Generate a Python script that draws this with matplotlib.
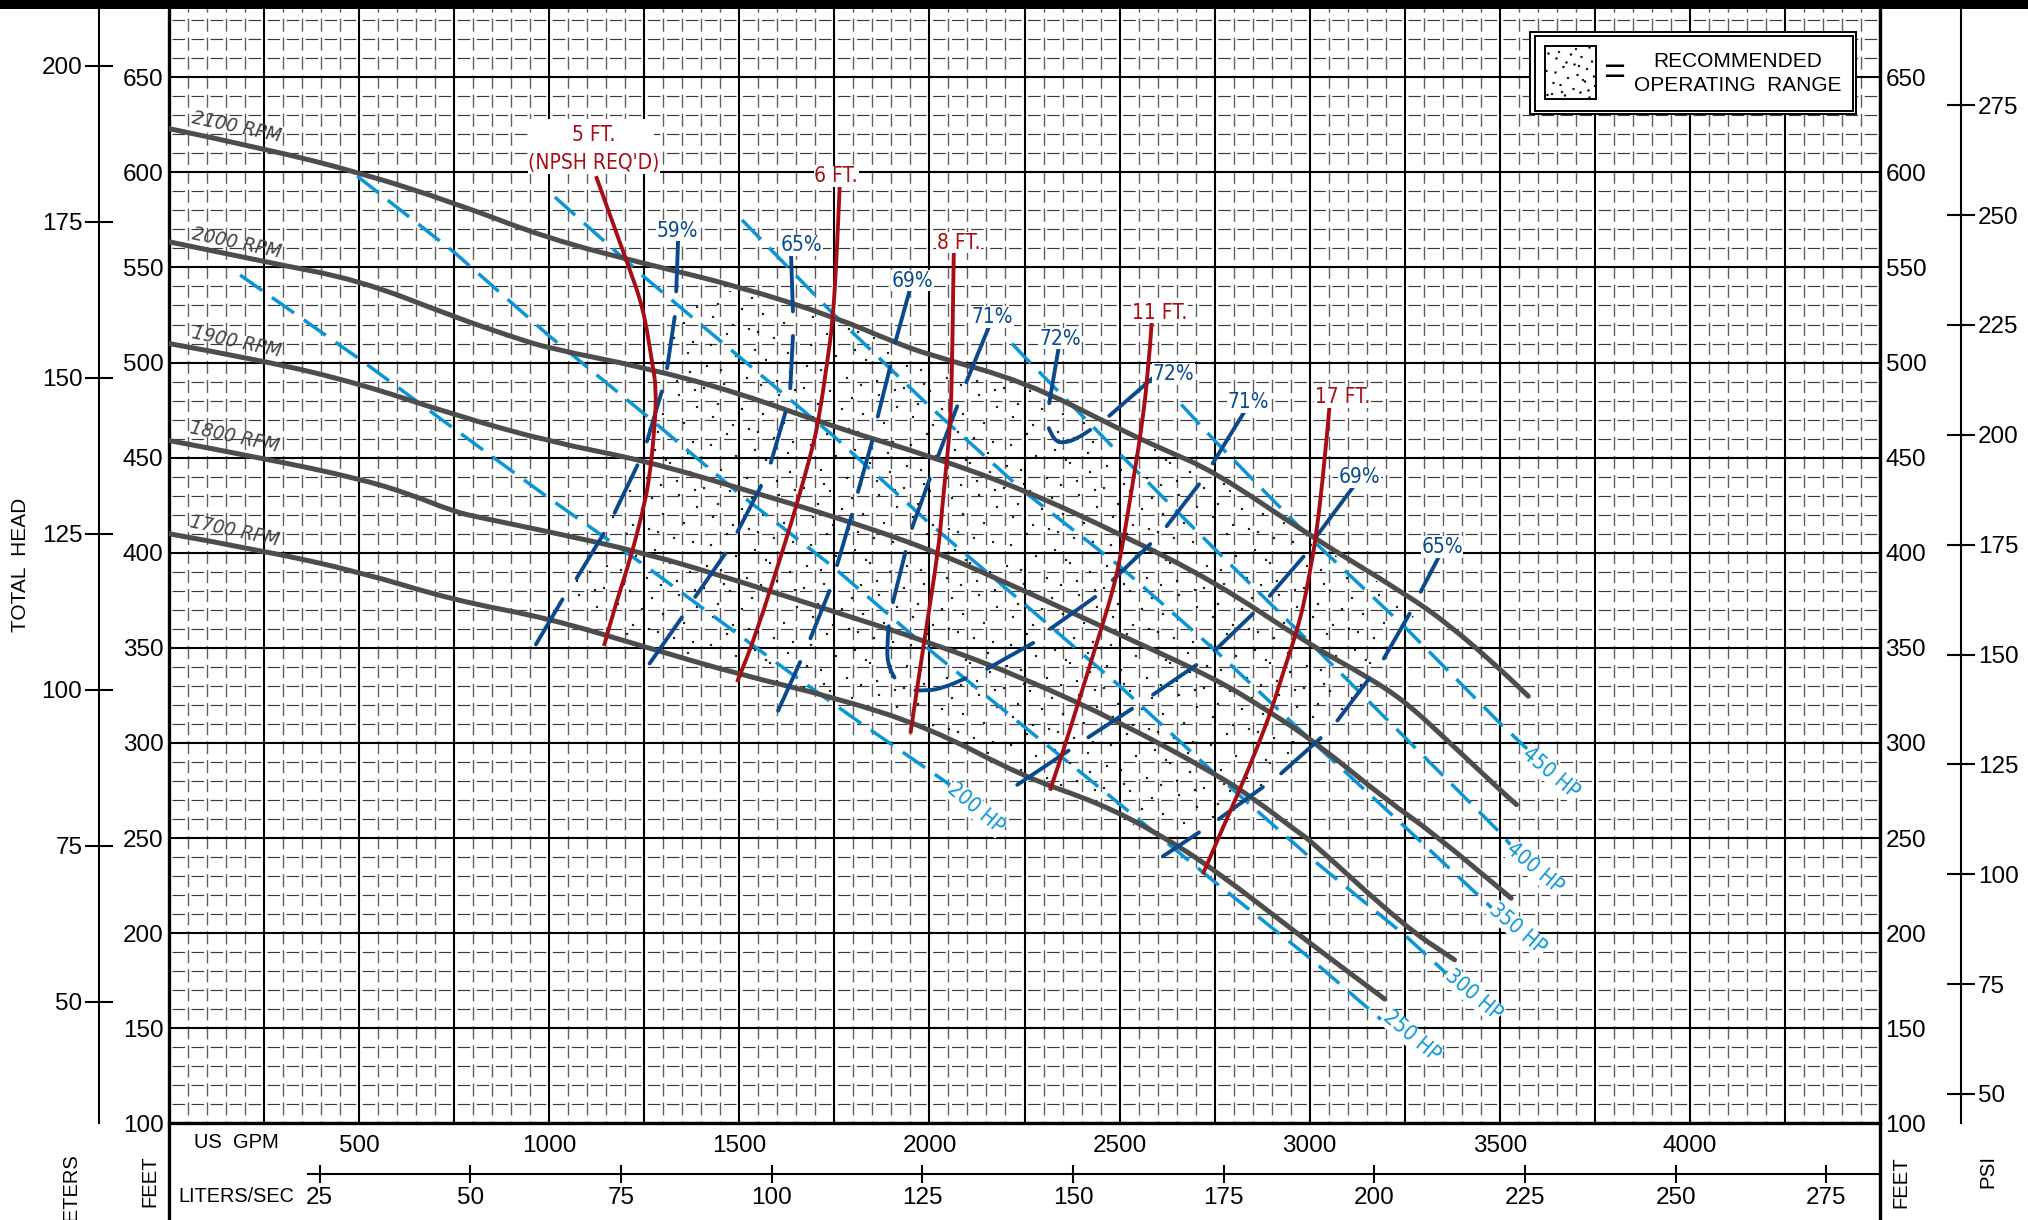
import matplotlib
matplotlib.use('Agg')
import matplotlib.pyplot as plt
from matplotlib import hatch as mhatch
from matplotlib.patches import PathPatch, Rectangle
from matplotlib.path import Path
from matplotlib.ticker import MultipleLocator

plt.rcParams['lines.scale_dashes'] = False
plt.rcParams['hatch.linewidth'] = 0.25

SANS = ['Liberation Sans', 'DejaVu Sans']

# head-capacity curves, gpm / feet
rpm_2100_gpm = [0, 250, 500, 750, 1000, 1250, 1500, 1750, 1910, 2000, 2250, 2500, 2607, 2750, 3000, 3250, 3368, 3500, 3575]
rpm_2100_ft = [623, 612.5, 600, 584, 565, 552, 540, 524, 510.5, 504, 490, 465, 455, 442.7, 409, 378.6, 362, 339, 324.6]
rpm_2000_gpm = [0, 250, 500, 750, 903, 1000, 1250, 1500, 1750, 2000, 2250, 2500, 2750, 3000, 3150, 3250, 3364, 3500, 3544]
rpm_2000_ft = [563.5, 553, 543.4, 524, 513.5, 507.4, 497.5, 484, 466, 451, 433, 410, 384.8, 351.6, 335, 322, 301, 275.4, 267.6]
rpm_1900_gpm = [0, 250, 500, 750, 1000, 1250, 1500, 1750, 2000, 2250, 2500, 2750, 2886, 3018, 3202, 3325, 3530]
rpm_1900_ft = [510, 501, 489, 472.5, 458.4, 448.5, 434, 419, 402, 380, 357, 334, 317.5, 300, 270, 252.6, 218.4]
rpm_1800_gpm = [0, 250, 500, 631, 750, 816, 1000, 1250, 1500, 1750, 2000, 2250, 2500, 2750, 2851, 2973, 3000, 3250, 3381]
rpm_1800_ft = [459, 449.6, 439, 431, 421.6, 418.6, 411, 400, 385, 369, 353, 334, 311, 284, 271, 252.6, 249, 203.5, 186]
rpm_1700_gpm = [0, 250, 500, 750, 1000, 1250, 1500, 1750, 2000, 2250, 2447, 2605, 2750, 3000, 3197]
rpm_1700_ft = [410, 401, 390, 375, 365.5, 350.6, 336, 324, 308, 282, 268.4, 252, 233.4, 194.8, 165.4]

rpm_gpm = [178, 178, 178, 173, 173]
rpm_ft = [624, 562.6, 511, 461, 411.6]
rpm_names = ['2100 RPM', '2000 RPM', '1900 RPM', '1800 RPM', '1700 RPM']

# horsepower lines
hp_200_gpm = [187, 500, 707, 1000, 1250, 1396, 1633, 1808, 2054]
hp_200_ft = [546, 502, 471.5, 428.6, 393.5, 372, 337, 312, 278]
hp_250_gpm = [495, 750, 1000, 1250, 1500, 1744, 2000, 2265, 2500, 2750, 3000, 3197]
hp_250_ft = [598, 558, 514, 473, 431, 393, 349, 306, 268, 227, 187, 153]
hp_300_gpm = [1015, 1250, 1500, 1750, 2000, 2250, 2500, 2750, 3000, 3250, 3364]
hp_300_ft = [587, 545, 503, 461, 415.5, 373, 330, 284, 240, 199, 178]
hp_350_gpm = [1507, 1750, 2000, 2250, 2500, 2750, 3000, 3250, 3486]
hp_350_ft = [575, 525, 477, 432, 393, 349, 302, 256, 212]
hp_400_gpm = [2217, 2250, 2500, 2750, 3000, 3250, 3500, 3530]
hp_400_ft = [510, 503, 452, 402, 353, 303, 253, 246]
hp_450_gpm = [2662, 2750, 3000, 3250, 3500, 3574]
hp_450_ft = [478, 459, 408, 361, 310.5, 296.5]

hp_gpm = [2122, 3267, 3430, 3548, 3592, 3635]
hp_ft = [265.6, 145.7, 167.6, 202, 234, 284]
hp_names = ['200 HP', '250 HP', '300 HP', '350 HP', '400 HP', '450 HP']

# NPSH required
npsh_5_gpm = [1123, 1206, 1247, 1270, 1282, 1277, 1263, 1245, 1215, 1175, 1144]
npsh_5_ft = [598, 552, 529, 501, 486, 465, 438, 421, 398, 373, 351]
npsh_6_gpm = [1764, 1757, 1746, 1731, 1709, 1691, 1652, 1617, 1542, 1494]
npsh_6_ft = [593, 559, 522, 500, 470, 454, 426, 403, 356, 332]
npsh_8_gpm = [2064, 2060, 2055, 2046, 2033, 2024, 1985, 1950]
npsh_8_ft = [558, 500, 468, 449, 422.5, 402, 352, 305]
npsh_11_gpm = [2585, 2574, 2553, 2539, 2522, 2500, 2478, 2450, 2362, 2317]
npsh_11_ft = [522, 491, 459, 442, 421, 395, 377, 359, 302, 275]
npsh_17_gpm = [3052, 3039, 3017, 3004, 2987, 2965, 2935, 2900, 2860, 2816, 2773, 2719]
npsh_17_ft = [476.5, 447, 408.6, 394, 375, 358, 340, 317.5, 296.5, 275.4, 256, 231]

npsh_gpm = [1755, 2077, 2605, 3086]
npsh_ft = [598, 563, 526.3, 481.8]
npsh_names = ['6 FT.', '8 FT.', '11 FT.', '17 FT.']

# efficiency contours, broken into pieces as printed
eff_59 = [([1339, 1334], [564.6, 537.4]), ([1330, 1310], [524, 497]), ([1296, 1257], [484.8, 458.5]),
          ([1232, 1172], [446, 421]), ([1143, 1072], [410, 386.5]), ([1035, 965], [375.5, 351.8])]
eff_65 = [([1636, 1641], [556.7, 526.9]), ([1641, 1634], [514, 486.5]), ([1621, 1583], [473.7, 447.4]),
          ([1557, 1495], [435, 411]), ([1463, 1384], [399.6, 376.8]), ([1349, 1264], [366, 341.8])]
eff_69 = [([1948, 1910], [538, 510.5]), ([1897, 1864], [498, 471.6]), ([1849, 1812], [458.5, 432]),
          ([1796, 1757], [420, 393.5]), ([1737, 1687], [380, 355]), ([1660, 1602], [342.6, 317])]
eff_71 = [([2156, 2097], [518.6, 489.7]), ([2073, 2023], [477, 451]), ([2001, 1954], [439, 413]),
          ([1937, 1904], [400.5, 374]), ([1893, 1887, 1893, 1908], [361.4, 349, 340, 334.4])]
eff_72 = [([2340, 2315], [508, 478.6]), ([2314, 2327, 2353, 2388, 2423], [465.5, 459, 457.6, 460, 464.6]),
          ([2473, 2587], [472, 491.8])]
eff_71_low = [([1963, 1994, 2037, 2095], [327.7, 327.4, 329, 334]), ([2152, 2273], [339, 352.6]),
              ([2318, 2436], [360, 376.8]), ([2482, 2581], [385.6, 404.6]), ([2624, 2709], [414, 436]),
              ([2745, 2827], [447, 473.7])]
eff_69_right = [([3116, 3017], [435, 408.4]), ([2984, 2895], [398, 377.4]), ([2851, 2750], [368, 348.5]),
                ([2702, 2588], [341, 325.4]), ([2533, 2418], [318, 303]), ([2366, 2231], [296, 278])]
eff_65_right = [([3342, 3292], [398.7, 379.5]), ([3263, 3195], [368, 344.4]), ([3156, 3073], [333.7, 311.8]),
                ([3029, 2925], [302.6, 284]), ([2877, 2761], [276.8, 260]), ([2709, 2614], [253, 240.4])]

eff_gpm = [1336, 1663, 1956, 2165, 2343, 2642, 2838, 3130, 3348]
eff_ft = [569.3, 561.6, 543, 523.9, 512.5, 494, 479, 439.7, 403]
eff_names = ['59%', '65%', '69%', '71%', '72%', '72%', '71%', '69%', '65%']

# recommended operating range outline
range_gpm = [1338, 1500, 1750, 2000, 2250, 2500, 2750, 3000, 3250, 3292, 3195, 3073, 2925, 2761, 2614,
             2500, 2250, 2000, 1750, 1500, 1250, 1035, 1072, 1143, 1232, 1310]
range_ft = [535, 538, 522, 502, 488, 463, 441, 407, 376, 372, 344, 312, 284, 260, 244,
            263, 282, 308, 324, 336, 352, 374, 386, 410, 446, 497]

gpm_ticks = list(range(0, 4501, 250))
gpm_labels = ['', '', '500', '', '1000', '', '1500', '', '2000', '', '2500', '', '3000', '', '3500', '', '4000', '', '']
lps_ticks = [25, 50, 75, 100, 125, 150, 175, 200, 225, 250, 275]
meter_ticks = [50, 75, 100, 125, 150, 175, 200]
psi_ticks = [50, 75, 100, 125, 150, 175, 200, 225, 250, 275]

# uneven dot texture for the stipple, positions inside one hatch tile
tile_x = [.04, .11, .13, .21, .27, .30, .36, .42, .47, .49, .55, .61, .63, .70, .74, .79, .84, .90, .93, .97,
          .07, .18, .33, .52, .66, .77, .88, .24, .58, .95]
tile_y = [.12, .55, .83, .30, .66, .09, .44, .91, .22, .71, .50, .15, .86, .37, .62, .05, .77, .28, .58, .93,
          .34, .96, .75, .02, .40, .19, .47, .16, .68, .10]


class Stipple(mhatch.HatchPatternBase):
    shape = Path.unit_circle()

    def __init__(self, hatch, density):
        self.count = hatch.count('*')
        self.num_vertices = len(tile_x) * self.count ** 2 * len(self.shape.vertices)

    def set_vertices_and_codes(self, vertices, codes):
        n = len(self.shape.vertices)
        cursor = 0
        for i in range(self.count):
            for j in range(self.count):
                for x, y in zip(tile_x, tile_y):
                    pos = [(x + i) / self.count, (y + j) / self.count]
                    vertices[cursor:cursor + n] = self.shape.vertices * 0.01 + pos
                    codes[cursor:cursor + n] = self.shape.codes
                    cursor += n


mhatch._hatch_types = [t for t in mhatch._hatch_types if t is not mhatch.Stars] + [Stipple]


def smooth_line(ax, x, y, **kw):
    # quadratic bezier through the midpoints, the read values act as control points
    pts = list(zip(x, y))
    verts = [pts[0]]
    codes = [Path.MOVETO]
    for a, b in zip(pts[1:-1], pts[2:]):
        verts += [a, ((a[0] + b[0]) / 2, (a[1] + b[1]) / 2)]
        codes += [Path.CURVE3, Path.CURVE3]
    verts.append(pts[-1])
    codes.append(Path.LINETO)
    ax.add_patch(PathPatch(Path(verts, codes), fill=False, joinstyle='round', **kw))


W, H = 2028, 1220
fig = plt.figure(figsize=(W / 100, H / 100), dpi=100)
ax = fig.add_axes([169 / W, (H - 1123.4) / H, 1711 / W, 1115.4 / H])
ax.set_xlim(0, 4500)
ax.set_ylim(100, 686.4)

# grid
ax.set_xticks(gpm_ticks)
ax.set_xticklabels(gpm_labels, fontfamily=SANS, fontsize=17.5)
ax.yaxis.set_major_locator(MultipleLocator(50))
ax.xaxis.set_minor_locator(MultipleLocator(50))
ax.yaxis.set_minor_locator(MultipleLocator(10))
ax.set_axisbelow(True)
ax.grid(which='major', color='black', linewidth=1.5)
ax.grid(which='minor', axis='y', color='#3a3a3a', linewidth=0.85, linestyle=(11.5, (9.0, 4.69)))
ax.grid(which='minor', axis='x', color='#5f5f5f', linewidth=1.0, linestyle=(7.9, (9.4, 4.29)))
ax.tick_params(which='both', length=0)
ax.tick_params(axis='x', pad=8)
ax.tick_params(axis='y', labelright=True, pad=4, labelsize=17.5)
for t in ax.get_yticklabels():
    t.set_fontfamily(SANS)
for side in ['left', 'right']:
    ax.spines[side].set_linewidth(2.4)
    ax.spines[side].set_bounds(49, 686.4)
ax.spines['bottom'].set_linewidth(2.4)
ax.spines['top'].set_visible(False)

# stippled range
ax.fill(range_gpm, range_ft, facecolor='none', edgecolor='black', linewidth=0, hatch='*', zorder=1.5)

HP_BLUE = '#0a96d6'
for x, y in [(hp_200_gpm, hp_200_ft), (hp_250_gpm, hp_250_ft), (hp_300_gpm, hp_300_ft),
             (hp_350_gpm, hp_350_ft), (hp_400_gpm, hp_400_ft), (hp_450_gpm, hp_450_ft)]:
    ax.plot(x, y, color=HP_BLUE, linewidth=2.5, linestyle=(0, (19.5, 8.5)), zorder=3)

for x, y in [(rpm_2100_gpm, rpm_2100_ft), (rpm_2000_gpm, rpm_2000_ft), (rpm_1900_gpm, rpm_1900_ft),
             (rpm_1800_gpm, rpm_1800_ft), (rpm_1700_gpm, rpm_1700_ft)]:
    smooth_line(ax, x, y, edgecolor='#4d4d4d', linewidth=3.6, capstyle='round', zorder=3.2)

for group in [eff_59, eff_65, eff_69, eff_71, eff_72, eff_71_low, eff_69_right, eff_65_right]:
    for x, y in group:
        smooth_line(ax, x, y, edgecolor='#0a4a8c', linewidth=2.8, capstyle='round', zorder=3.4)

RED = '#a80d14'
for x, y in [(npsh_5_gpm, npsh_5_ft), (npsh_6_gpm, npsh_6_ft), (npsh_8_gpm, npsh_8_ft),
             (npsh_11_gpm, npsh_11_ft), (npsh_17_gpm, npsh_17_ft)]:
    smooth_line(ax, x, y, edgecolor=RED, linewidth=2.8, capstyle='butt', zorder=3.6)

# labels on the curves
for x, y, s in zip(rpm_gpm, rpm_ft, rpm_names):
    ax.text(x, y, s, color='#444444', fontsize=14.5, family='DejaVu Sans', stretch='condensed', style='oblique',
            rotation=-12, rotation_mode='anchor', ha='center', va='center', zorder=4)
for x, y, s in zip(hp_gpm, hp_ft, hp_names):
    ax.text(x, y, s, color=HP_BLUE, fontsize=15, family='DejaVu Sans', stretch='condensed',
            rotation=-40, rotation_mode='anchor', ha='center', va='center', zorder=4,
            bbox=dict(facecolor='white', edgecolor='none', pad=0.5))
for x, y, s in zip(eff_gpm, eff_ft, eff_names):
    ax.text(x, y, s, color='#0a4a8c', fontsize=15, family='DejaVu Sans', stretch='condensed',
            ha='center', va='center', zorder=4, bbox=dict(facecolor='white', edgecolor='none', pad=0.5))
for x, y, s in zip(npsh_gpm, npsh_ft, npsh_names):
    ax.text(x, y, s, color=RED, fontsize=15, family='DejaVu Sans', stretch='condensed',
            ha='center', va='center', zorder=4, bbox=dict(facecolor='white', edgecolor='none', pad=0.5))
# white patch behind the 5 FT. note, wider than its text
ax.add_patch(Rectangle((945, 610), 330, 18, facecolor='white', edgecolor='none', zorder=2.5))
ax.text(1118, 619.7, '5 FT.', color=RED, fontsize=15, family='DejaVu Sans', stretch='condensed',
        ha='center', va='center', zorder=4)
ax.text(1118, 604.7, "(NPSH REQ'D)", color=RED, fontsize=15, family='DejaVu Sans', stretch='condensed',
        ha='center', va='center', zorder=4, bbox=dict(facecolor='white', edgecolor='none', pad=0.5))

# legend box
ax.add_patch(Rectangle((3579, 630.7), 858, 43.3, facecolor='white', edgecolor='black', linewidth=1.4, zorder=5))
ax.add_patch(Rectangle((3592, 632.4), 836, 39.2, facecolor='white', edgecolor='black', linewidth=1.4, zorder=5))
ax.add_patch(Rectangle((3620, 638.5), 132, 27.9, facecolor='white', edgecolor='black', linewidth=1.4,
                       hatch='**', zorder=5))
ax.text(3800, 651.5, '=', fontsize=27, family=SANS, ha='center', va='center', zorder=6)
ax.text(4127, 658.5, 'RECOMMENDED', fontsize=15, family=SANS, ha='center', va='center', zorder=6)
ax.text(4127, 645.4, 'OPERATING  RANGE', fontsize=15, family=SANS, ha='center', va='center', zorder=6)

# meters and psi scales
meters = ax.secondary_yaxis(-70 / 1711, functions=(lambda v: v * 0.3048, lambda v: v / 0.3048))
meters.set_yticks(meter_ticks)
meters.tick_params(direction='inout', length=20, width=1.5, pad=2, labelsize=17.5)
meters.spines['left'].set_linewidth(1.5)
for t in meters.get_yticklabels():
    t.set_fontfamily(SANS)

psi = ax.secondary_yaxis(1 + 81 / 1711, functions=(lambda v: v / 2.31, lambda v: v * 2.31))
psi.set_yticks(psi_ticks)
psi.tick_params(direction='inout', length=20, width=1.5, pad=2, labelsize=17.5)
psi.spines['right'].set_linewidth(1.5)
for t in psi.get_yticklabels():
    t.set_fontfamily(SANS)

# liters per second scale
lps = ax.secondary_xaxis(-50.6 / 1115.4, functions=(lambda v: v / 15.85, lambda v: v * 15.85))
lps.set_xticks(lps_ticks)
lps.tick_params(direction='inout', length=13, width=1.5, pad=3, labelsize=17.5)
lps.spines['bottom'].set_linewidth(1.5)
lps.spines['bottom'].set_bounds(23, 283.9)
lps.spines['top'].set_visible(False)
for t in lps.get_xticklabels():
    t.set_fontfamily(SANS)

# heavy rule along the top edge
fig.add_artist(Rectangle((0, 1 - 8.5 / H), 1, 8.5 / H, transform=fig.transFigure, facecolor='black', edgecolor='none'))

# axis names
fig.text(21 / W, 1 - 565 / H, 'TOTAL  HEAD', rotation=90, ha='center', va='center', fontsize=15, family=SANS)
fig.text(71 / W, 1 - 1153 / H, 'METERS', rotation=90, ha='center', va='top', fontsize=14.5, family=SANS)
fig.text(150 / W, 1 - 1181 / H, 'FEET', rotation=90, ha='center', va='center', fontsize=14.6, family=SANS)
fig.text(1901 / W, 1 - 1182 / H, 'FEET', rotation=90, ha='center', va='center', fontsize=14.6, family=SANS)
fig.text(1988 / W, 1 - 1171 / H, 'PSI', rotation=90, ha='center', va='center', fontsize=14.8, family=SANS)
fig.text(236 / W, 1 - 1143 / H, 'US  GPM', ha='center', va='center', fontsize=14.5, family=SANS)
fig.text(236 / W, 1 - 1197 / H, 'LITERS/SEC', ha='center', va='center', fontsize=14.3, family=SANS)

fig.savefig('out.png', dpi=100)
